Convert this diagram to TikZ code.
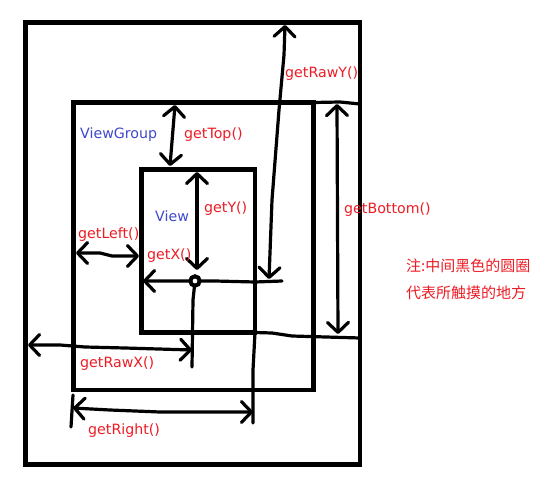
\documentclass[tikz,border=0pt]{standalone}
\usepackage{fontspec}
\setmainfont{DejaVu Sans}
\newfontfamily\cjkfont{Noto Sans CJK SC}
\usetikzlibrary{arrows.meta}
\definecolor{txtred}{RGB}{237,28,36}
\definecolor{txtblue}{RGB}{63,72,204}
\begin{document}
\begin{tikzpicture}[x=1pt,y=-1pt,
  frame/.style={line width=4.8pt},
  pen/.style={line width=3.2pt, line cap=round, line join=round},
  barb/.tip={Straight Barb[length=10pt,width=21pt,round]},
  tip/.style={pen,-barb},
  tips/.style={pen,barb-barb},
  lbl/.style={text=txtred, font=\fontsize{14.2}{16}\selectfont, anchor=base west, inner sep=0pt},
  nm/.style={lbl, text=txtblue},
  cjk/.style={lbl, font=\cjkfont\fontsize{15}{18}\selectfont},
]
\fill[white] (0,0) rectangle (550,485);
\useasboundingbox (0,0) rectangle (550,485);

% frames
\coordinate (outerA) at (25.5,22.5);
\coordinate (outerB) at (360,464.5);
\coordinate (groupA) at (73.5,102.5);
\coordinate (groupB) at (313.5,390);
\coordinate (viewA) at (141.5,169.5);
\coordinate (viewB) at (255,332.5);
\draw[frame] (outerA) rectangle (outerB);
\draw[frame] (groupA) rectangle (groupB);
\draw[frame] (viewA) rectangle (viewB);

% key points
\coordinate (touch) at (195,281);
\coordinate (rawyTop) at (285,25);
\coordinate (rawyBot) at (269,279);
\coordinate (xLeft) at (143,281);
\coordinate (xRight) at (282,281);
\coordinate (yTop) at (197,172);
\coordinate (yBot) at (197,270);
\coordinate (downEnd) at (192,367);
\coordinate (topA) at (175,105);
\coordinate (topB) at (170,166);
\coordinate (leftA) at (76,253);
\coordinate (leftB) at (139,256);
\coordinate (botA) at (337,104);
\coordinate (botB) at (338,334);
\coordinate (rawxA) at (28,345);
\coordinate (rawxB) at (192,350);
\coordinate (rightA) at (73,408);
\coordinate (rightB) at (253,412);
\coordinate (rightEnd) at (253,423);
\coordinate (tickA) at (73,395);
\coordinate (tickB) at (71,427);

% getRawY
\draw[tips] (rawyBot) -- (272,200) -- (279,110) -- (284,55) -- (rawyTop);
% horizontal through touch (getX)
\draw[tip] (xRight) -- (255,282) -- (215,281) -- (xLeft);
% getY
\draw[tips] (yBot) -- (yTop);
% vertical below touch
\draw[pen] (touch) -- (193,300) -- (downEnd);
% getTop
\draw[tips] (topA) -- (topB);
% getLeft
\draw[tips] (leftA) -- (100,253) -- (112,256) -- (leftB);
% getBottom
\draw[tips] (botA) -- (botB);
\draw[pen] (313,102.5) -- (340,102) -- (360,104);
\draw[pen] (viewB) -- (272,333) -- (292,336) -- (360,338);
% getRawX
\draw[tips] (rawxA) -- (60,345) -- (85,347) -- (125,348) -- (rawxB);
% getRight
\draw[pen] (viewB) -- (253,370) -- (rightEnd);
\draw[pen] (tickA) -- (tickB);
\draw[tips] (rightA) -- (110,410) -- (160,412) -- (rightB);

% touch point
\node[circle, draw, line width=4pt, fill=white, minimum size=9.4pt, inner sep=0pt] (touchMark) at (touch) {};

% labels
\node[lbl] (lRawY) at (285,77) {getRawY()};
\node[nm] (lGroup) at (80,138.5) {ViewGroup};
\node[lbl] (lTop) at (184,138.5) {getTop()};
\node[nm] (lView) at (155,221) {View};
\node[lbl] (lY) at (204,212.5) {getY()};
\node[lbl] (lLeft) at (78,238) {getLeft()};
\node[lbl] (lX) at (147,259.5) {getX()};
\node[lbl] (lBottom) at (344,213) {getBottom()};
\node[lbl] (lRawX) at (80,367) {getRawX()};
\node[lbl] (lRight) at (88,434) {getRight()};
\node[cjk] (note1) at (406,271.5) {注:中间黑色的圆圈};
\node[cjk] (note2) at (406,298) {代表所触摸的地方};
\end{tikzpicture}
\end{document}
